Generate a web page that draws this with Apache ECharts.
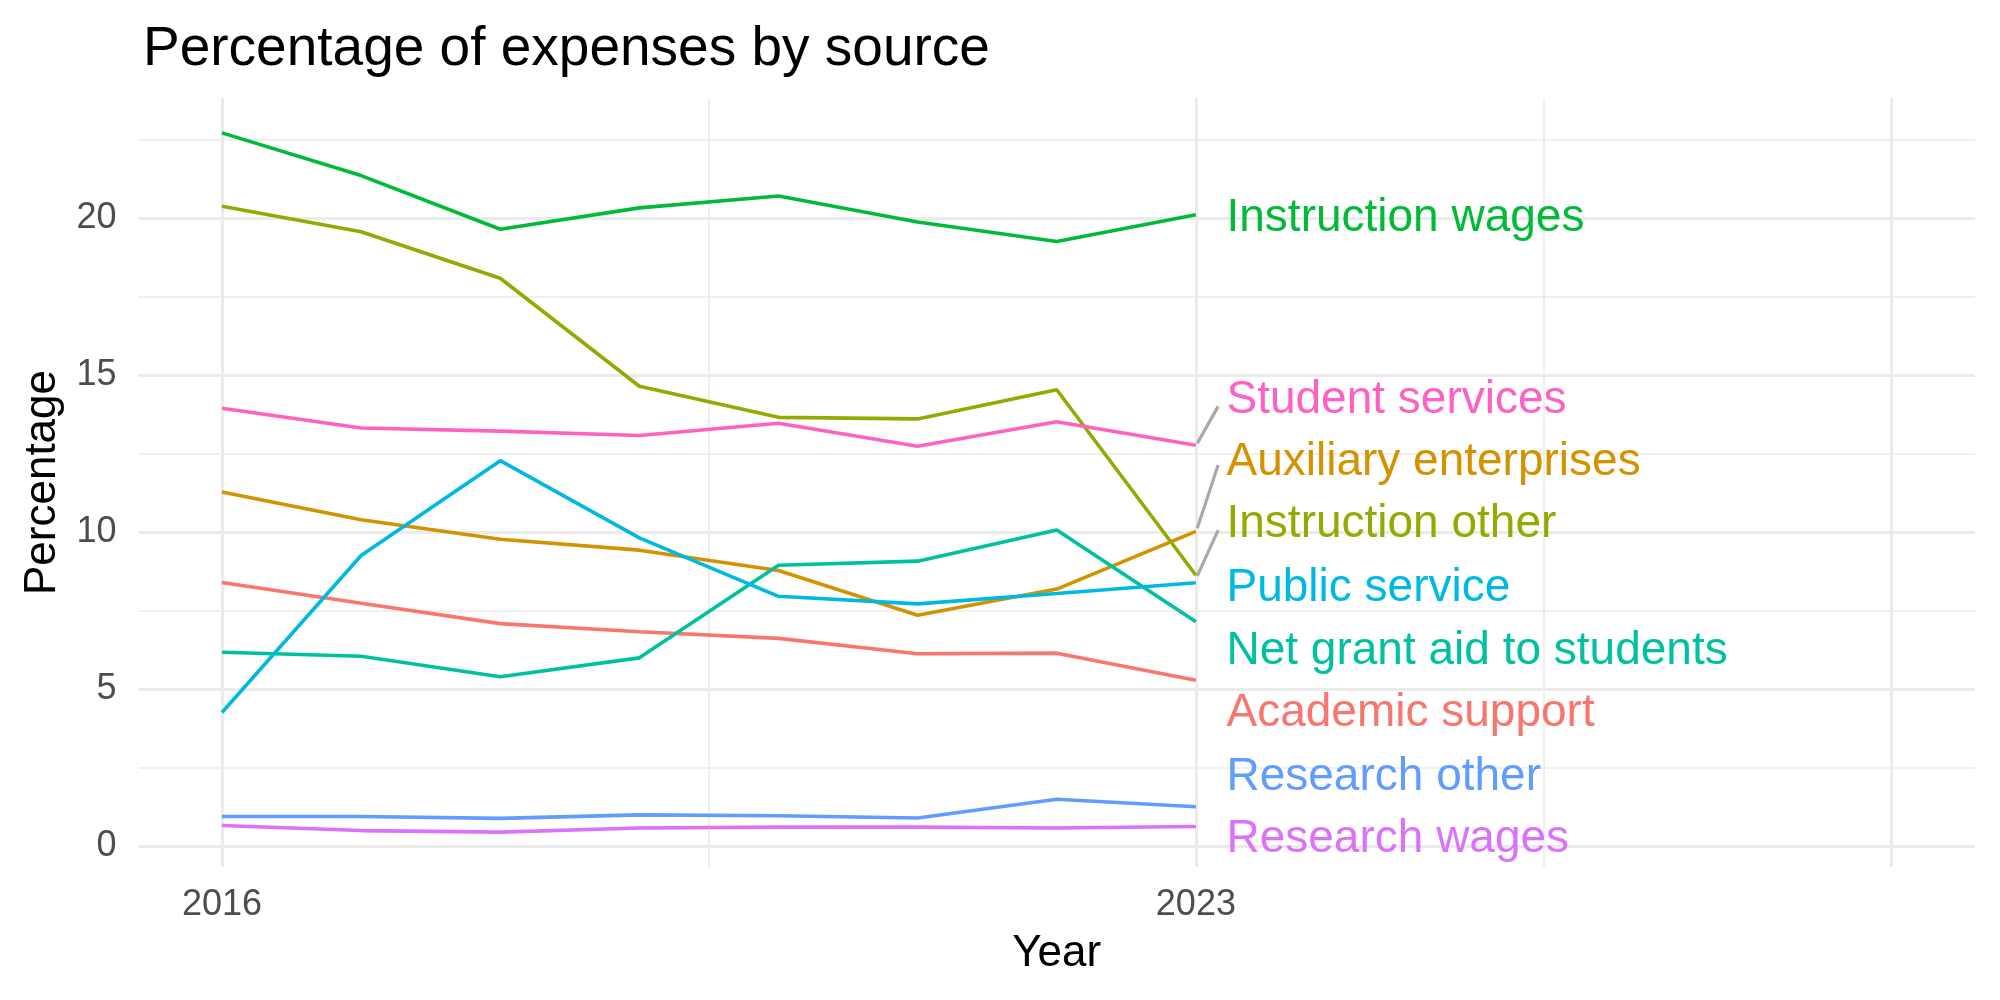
<!DOCTYPE html>
<html>
<head>
<meta charset="utf-8">
<script src="https://cdn.jsdelivr.net/npm/echarts@6/dist/echarts.min.js"></script>
<style>
  html, body { margin: 0; padding: 0; background: #fff; }
  #chart { width: 2000px; height: 1000px; }
</style>
</head>
<body>
<div id="chart"></div>
<script>
// data
const years = [2016, 2017, 2018, 2019, 2020, 2021, 2022, 2023];
const academicSupport = [8.39, 7.73, 7.08, 6.82, 6.61, 6.12, 6.14, 5.28];
const auxiliaryEnterprises = [11.27, 10.39, 9.77, 9.42, 8.77, 7.35, 8.18, 10.02];
const instructionOther = [20.37, 19.56, 18.08, 14.64, 13.65, 13.60, 14.53, 8.62];
const instructionWages = [22.71, 21.35, 19.64, 20.32, 20.70, 19.87, 19.25, 20.10];
const netGrantAid = [6.17, 6.04, 5.39, 5.99, 8.94, 9.07, 10.06, 7.14];
const publicService = [4.25, 9.25, 12.27, 9.81, 7.95, 7.71, 8.04, 8.38];
const researchOther = [0.94, 0.94, 0.88, 0.99, 0.96, 0.89, 1.49, 1.25];
const researchWages = [0.65, 0.49, 0.44, 0.57, 0.60, 0.60, 0.57, 0.62];
const studentServices = [13.94, 13.31, 13.21, 13.07, 13.46, 12.73, 13.51, 12.76];

// repelled label positions (year, value) and their leader segments
const labelX = 2023.22;
const labelY = {
  "Instruction wages": 20.08,
  "Student services": 14.30,
  "Auxiliary enterprises": 12.32,
  "Instruction other": 10.33,
  "Public service": 8.30,
  "Net grant aid to students": 6.30,
  "Academic support": 4.31,
  "Research other": 2.29,
  "Research wages": 0.30,
};
const segments = [
  [[2023.01, 12.82], [2023.16, 14.0]],
  [[2023.01, 10.12], [2023.16, 12.13]],
  [[2023.01, 8.6], [2023.16, 10.06]],
];

const yTicks = [0, 5, 10, 15, 20];
const xTicks = [2016, 2023];
const yMajor = [0, 5, 10, 15, 20];
const yMinor = [2.5, 7.5, 12.5, 17.5, 22.5];
const xMajor = [2016, 2023, 2028];
const xMinor = [2019.5, 2025.5];

const groups = [
  { name: "Academic support", values: academicSupport, color: "#F8766D" },
  { name: "Auxiliary enterprises", values: auxiliaryEnterprises, color: "#D39200" },
  { name: "Instruction other", values: instructionOther, color: "#93AA00" },
  { name: "Instruction wages", values: instructionWages, color: "#00BA38" },
  { name: "Net grant aid to students", values: netGrantAid, color: "#00C19F" },
  { name: "Public service", values: publicService, color: "#00B9E3" },
  { name: "Research other", values: researchOther, color: "#619CFF" },
  { name: "Research wages", values: researchWages, color: "#DB72FB" },
  { name: "Student services", values: studentServices, color: "#FF61C3" },
];

const FONT = "Liberation Sans";
const chart = echarts.init(document.getElementById("chart"));

const gridLines = [];
yMajor.forEach((v) => gridLines.push({ yAxis: v, lineStyle: { width: 3 } }));
yMinor.forEach((v) => gridLines.push({ yAxis: v, lineStyle: { width: 1.6 } }));
xMajor.forEach((v) => gridLines.push({ xAxis: v, lineStyle: { width: 3 } }));
xMinor.forEach((v) => gridLines.push({ xAxis: v, lineStyle: { width: 1.6 } }));

const series = [
  {
    name: "grid",
    type: "line",
    data: [],
    z: 1,
    silent: true,
    markLine: {
      z: 1,
      silent: true,
      symbol: "none",
      animation: false,
      label: { show: false },
      emphasis: { disabled: true },
      lineStyle: { color: "#EBEBEB", type: "solid" },
      data: gridLines,
    },
  },
];

groups.forEach((g) => {
  series.push({
    name: g.name,
    type: "line",
    z: 3,
    showSymbol: false,
    emphasis: { disabled: true },
    data: g.values.map((v, i) => [years[i], v]),
    lineStyle: { color: g.color, width: 3.6 },
    itemStyle: { color: g.color },
  });
});

segments.forEach((s) => {
  series.push({
    type: "line",
    z: 3,
    showSymbol: false,
    emphasis: { disabled: true },
    data: s,
    lineStyle: { color: "#A9A9A9", width: 3.2 },
  });
});

series.push({
  type: "scatter",
  z: 4,
  symbolSize: 0,
  itemStyle: { opacity: 1 },
  emphasis: { disabled: true },
  data: groups.map((g) => ({
    value: [labelX, labelY[g.name]],
    name: g.name,
    label: { color: g.color },
  })),
  label: {
    show: true,
    position: "right",
    distance: 0,
    offset: [0, 3],
    formatter: (p) => p.name,
    fontFamily: FONT,
    fontSize: 46,
  },
});

chart.setOption({
  animation: false,
  title: {
    text: "Percentage of expenses by source",
    left: 138,
    top: 17,
    textStyle: { fontFamily: FONT, fontSize: 55, fontWeight: "normal", color: "#000" },
  },
  grid: { left: 138.5, right: 25, top: 98, bottom: 133, containLabel: false },
  xAxis: {
    type: "value",
    min: 2015.4,
    max: 2028.6,
    name: "Year",
    nameLocation: "middle",
    nameGap: 65,
    nameTextStyle: { fontFamily: FONT, fontSize: 44, color: "#000" },
    axisLine: { show: false },
    axisTick: { show: false },
    splitLine: { show: false },
    axisLabel: {
      customValues: xTicks,
      margin: 20,
      fontFamily: FONT,
      fontSize: 36,
      color: "#4D4D4D",
      formatter: (v) => String(v),
    },
  },
  yAxis: {
    type: "value",
    min: -0.67,
    max: 23.82,
    name: "Percentage",
    nameLocation: "middle",
    nameGap: 74,
    nameTextStyle: { fontFamily: FONT, fontSize: 44, color: "#000" },
    axisLine: { show: false },
    axisTick: { show: false },
    splitLine: { show: false },
    axisLabel: {
      customValues: yTicks,
      margin: 22,
      fontFamily: FONT,
      fontSize: 36,
      color: "#4D4D4D",
      formatter: (v) => String(v),
    },
  },
  series: series,
});
</script>
</body>
</html>
